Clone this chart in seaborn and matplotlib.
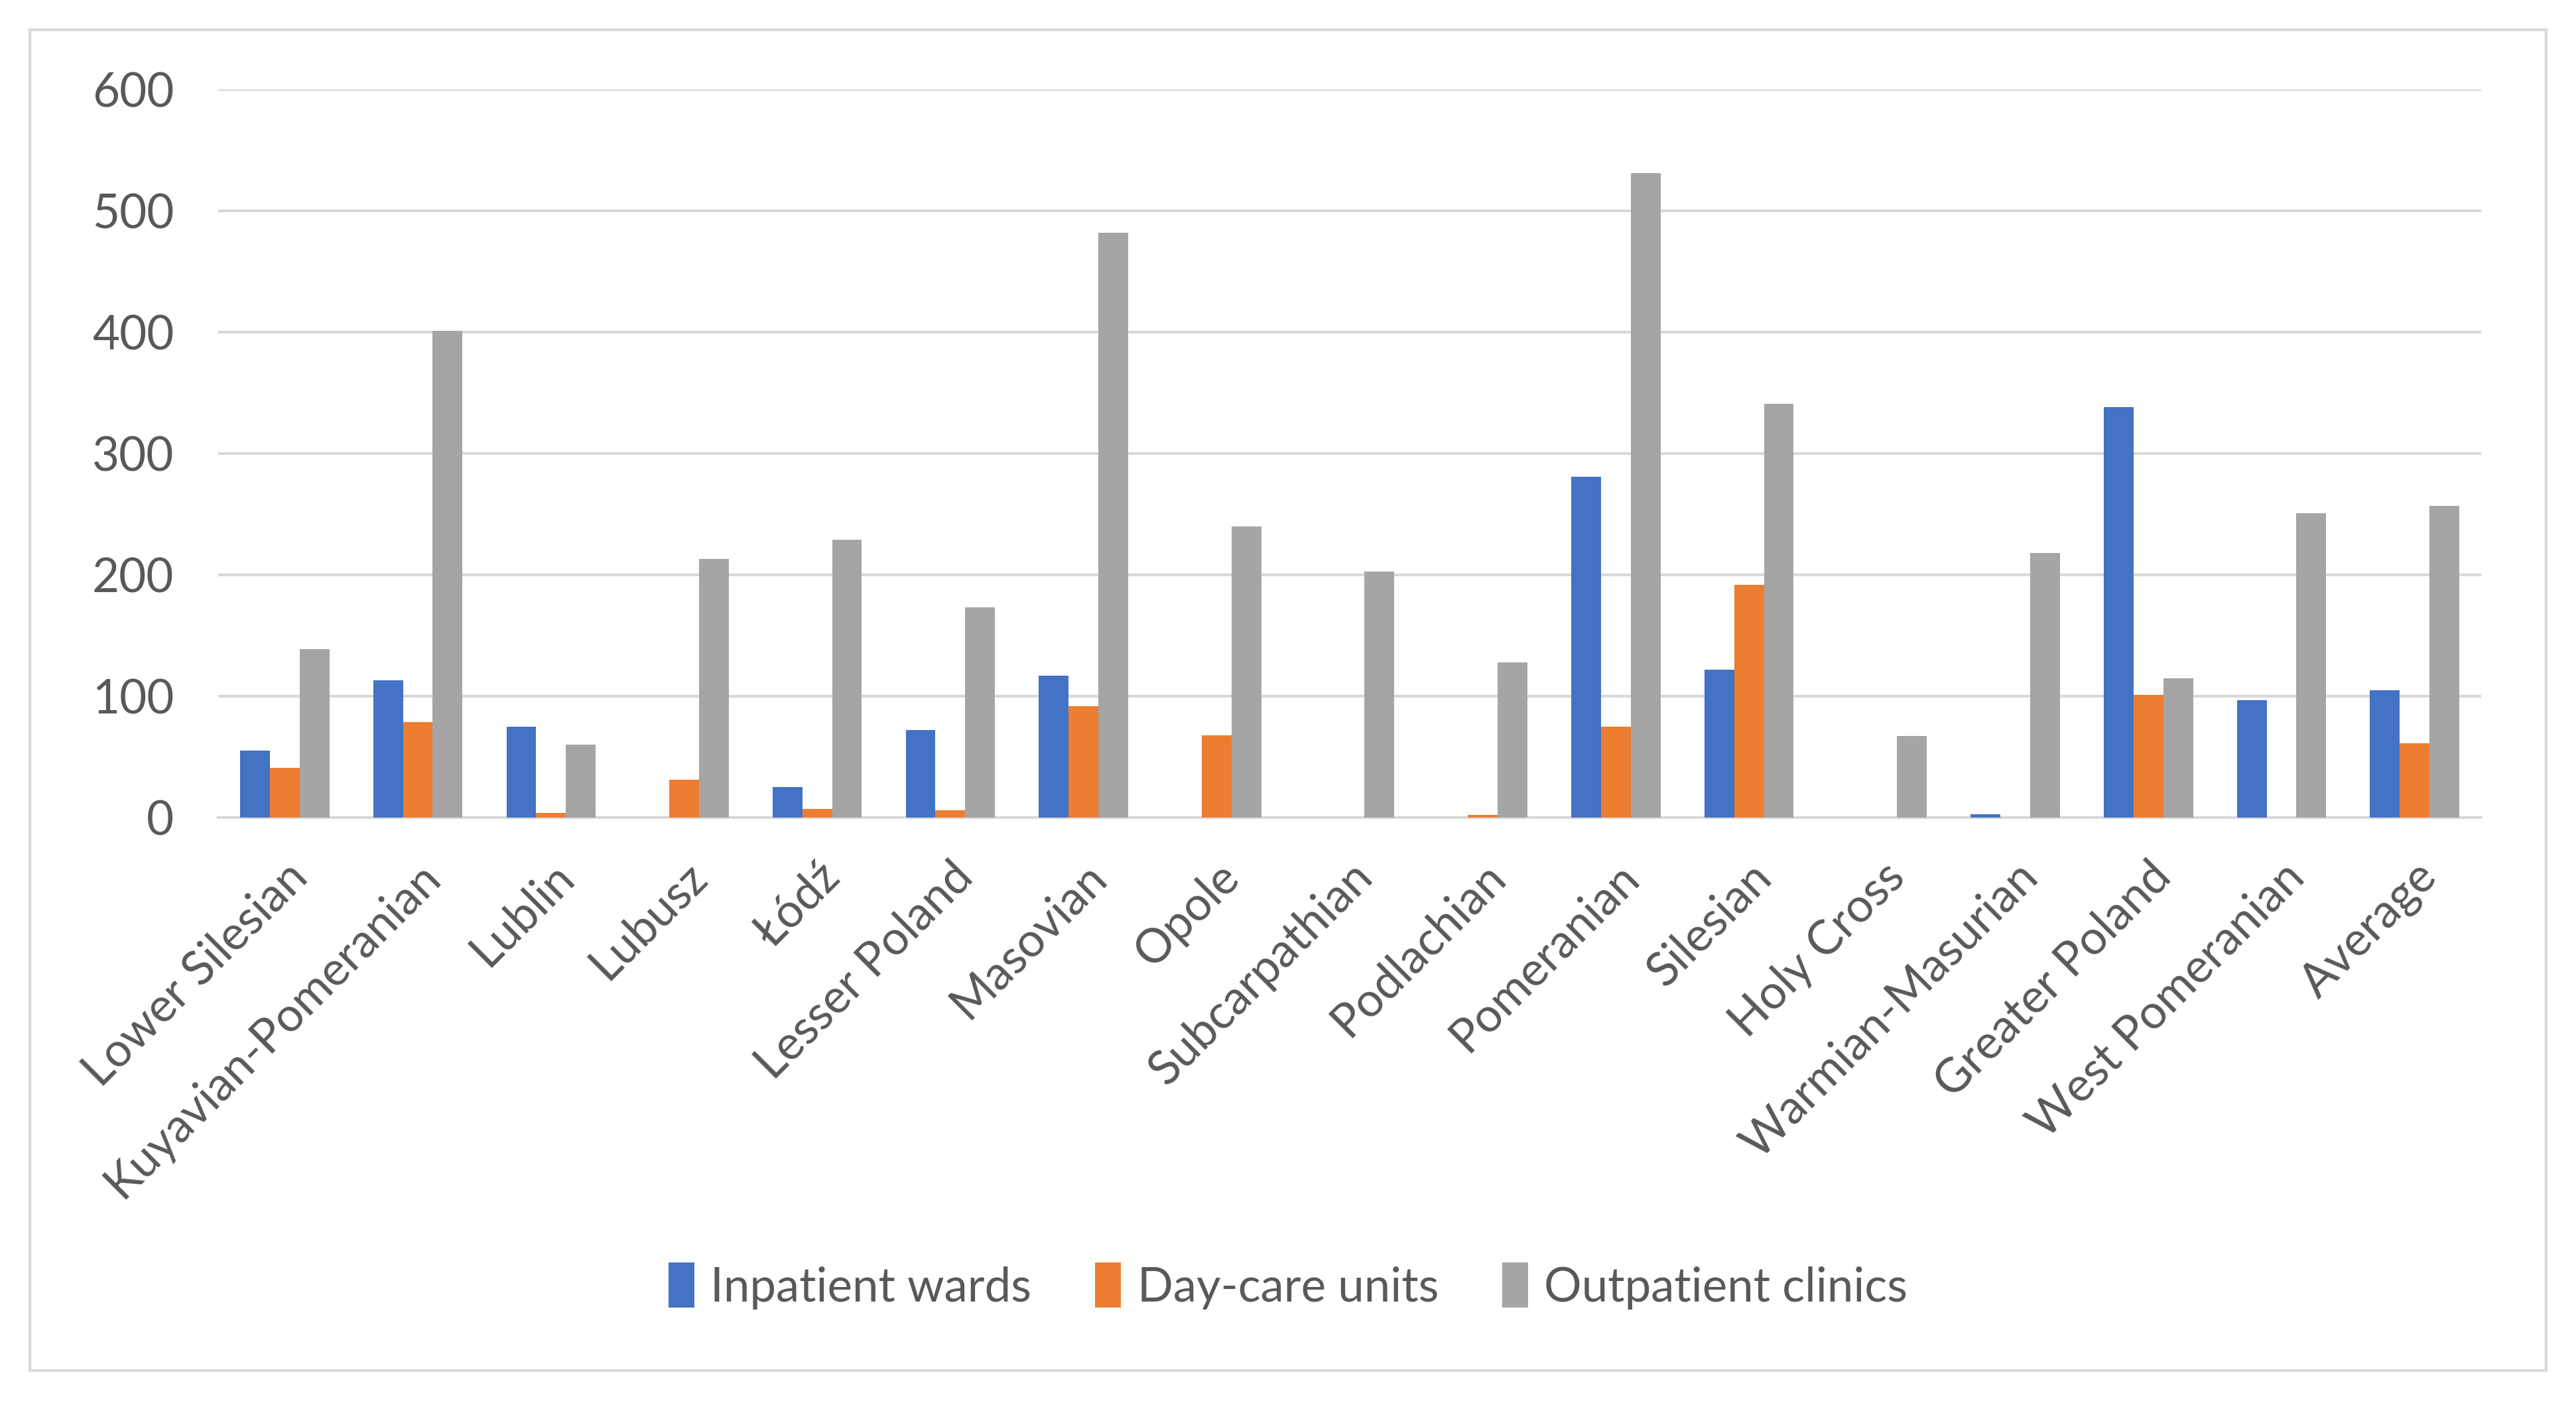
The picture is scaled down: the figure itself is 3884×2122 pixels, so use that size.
import pandas as pd
import matplotlib.pyplot as plt
import seaborn as sns
from matplotlib.patches import Rectangle

# --- Data ---
regions = ["Lower Silesian", "Kuyavian-Pomeranian", "Lublin", "Lubusz", "Łódź",
           "Lesser Poland", "Masovian", "Opole", "Subcarpathian", "Podlachian",
           "Pomeranian", "Silesian", "Holy Cross", "Warmian-Masurian",
           "Greater Poland", "West Pomeranian", "Average"]
inpatient = [55, 113, 75, 0, 25, 72, 117, 0, 0, 0, 281, 122, 0, 3, 338, 97, 105]
daycare = [41, 79, 4, 31, 7, 6, 92, 68, 0, 2, 75, 192, 0, 0, 101, 0, 61]
outpatient = [139, 401, 60, 213, 229, 173, 482, 240, 203, 128, 531, 341, 67, 218, 115, 251, 257]

series_names = ["Inpatient wards", "Day-care units", "Outpatient clinics"]
colors = ["#4472C4", "#ED7D31", "#A5A5A5"]

TEXT_COLOR = "#595959"
GRID_COLOR = "#D9D9D9"


def build_frame():
    rows = []
    for name, values in zip(series_names, [inpatient, daycare, outpatient]):
        for region, v in zip(regions, values):
            rows.append({"region": region, "series": name, "value": v})
    return pd.DataFrame(rows)


def main():
    df = build_frame()

    sns.set_style("white")
    plt.rcParams["font.family"] = ["Lato", "DejaVu Sans"]

    fig = plt.figure(figsize=(19.42, 10.61), dpi=200)
    ax = fig.add_axes([0.0847, 0.4189, 0.8785, 0.5175])

    sns.barplot(data=df, x="region", y="value", hue="series", order=regions,
                hue_order=series_names, palette=colors, width=0.67,
                saturation=1, errorbar=None, linewidth=0, ax=ax, zorder=3)

    ax.set_ylim(0, 600)
    ax.set_yticks(range(0, 601, 100))
    ax.set_xlim(-0.5, len(regions) - 0.5)
    ax.set_xlabel("")
    ax.set_ylabel("")
    ax.grid(axis="y", color=GRID_COLOR, linewidth=1.5, zorder=0)
    ax.set_axisbelow(True)
    for side in ["top", "right", "left"]:
        ax.spines[side].set_visible(False)
    ax.spines["bottom"].set_color(GRID_COLOR)
    ax.spines["bottom"].set_linewidth(1.5)

    ax.tick_params(axis="both", length=0, labelsize=25.5, colors=TEXT_COLOR)
    ax.tick_params(axis="y", pad=24)
    ax.tick_params(axis="x", pad=20)
    plt.setp(ax.get_xticklabels(), rotation=45, ha="right", rotation_mode="anchor")

    # legend below, centred on the figure
    handles, labels = ax.get_legend_handles_labels()
    ax.get_legend().remove()
    fig.legend(handles, labels, loc="center", bbox_to_anchor=(0.5, 0.086),
               ncol=3, frameon=False, fontsize=25.5, labelcolor=TEXT_COLOR,
               handlelength=0.55, handleheight=1.1, handletextpad=0.35,
               columnspacing=1.35)

    # light grey frame round the whole chart
    fig.patches.append(Rectangle((0.0116, 0.026), 0.9768, 0.953,
                                 transform=fig.transFigure, fill=False,
                                 edgecolor=GRID_COLOR, linewidth=1.5))

    fig.savefig("out.png", dpi=200, facecolor="white")
    plt.close(fig)


if __name__ == "__main__":
    main()
